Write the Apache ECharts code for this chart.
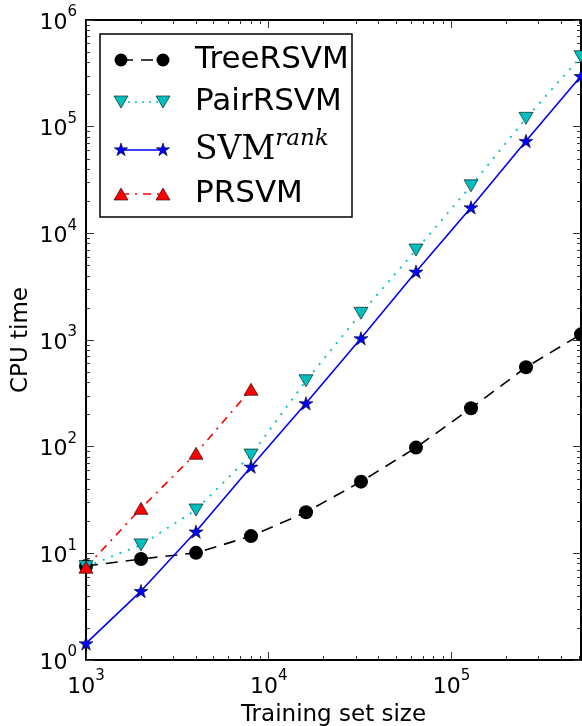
<!DOCTYPE html>
<html>
<head>
<meta charset="utf-8">
<script src="https://cdn.jsdelivr.net/npm/echarts@6.0.0/dist/echarts.min.js"></script>
<style>
  html, body { margin: 0; padding: 0; background: #fff; }
  #chart { width: 582px; height: 726px; }
</style>
</head>
<body>
<div id="chart"></div>
<script>
// data
var sizes = [1000, 2000, 4000, 8000, 16000, 32000, 64000, 128000, 256000, 512000];
var treeRSVM = [7.6, 8.85, 10.1, 14.5, 24.3, 47, 98, 229, 555, 1130];
var pairRSVM = [7.5, 12.0, 25.5, 83.5, 415, 1780, 6980, 27900, 119700, 453000];
var svmRank = [1.43, 4.43, 16.0, 64.9, 255, 1037, 4370, 17500, 73400, 298000];
var prsvm = [7.4, 26.4, 86.6, 345];

// tick positions
var xMajor = [1000, 10000, 100000];
var xMinor = [2000, 3000, 4000, 5000, 6000, 7000, 8000, 9000,
    20000, 30000, 40000, 50000, 60000, 70000, 80000, 90000,
    200000, 300000, 400000, 500000];
var yMajor = [1, 10, 100, 1000, 10000, 100000, 1000000];
var yMinor = [];
for (var k = 0; k < 6; k++) {
    for (var m = 2; m < 10; m++) yMinor.push(m * Math.pow(10, k));
}

var FONT = 'DejaVu Sans';
var STAR = 'path://M0,-10 L2.245,-3.09 L9.51,-3.09 L3.63,1.18 L5.88,8.09 L0,3.82 L-5.88,8.09 L-3.63,1.18 L-9.51,-3.09 L-2.245,-3.09 Z';

function pairs(xs, ys) {
    var out = [];
    for (var i = 0; i < ys.length; i++) out.push([xs[i], ys[i]]);
    return out;
}

function powLabel(v) {
    return '{b|10}{s|' + Math.round(Math.log10(v)) + '}';
}
var labelRich = {
    b: { fontSize: 22, fontFamily: FONT, color: '#000', lineHeight: 36 },
    s: { fontSize: 15, fontFamily: FONT, color: '#000', lineHeight: 15, verticalAlign: 'top' }
};

function xAxisDef(pos, ticks, len, showLine, showLabel) {
    return {
        type: 'log', logBase: 10, min: 1000, max: 512000, position: pos,
        splitLine: { show: false },
        axisLine: { show: showLine, lineStyle: { color: '#000', width: 2 } },
        axisTick: { show: true, inside: true, length: len, customValues: ticks,
            lineStyle: { color: '#333', width: 1 } },
        axisLabel: { show: showLabel, customValues: xMajor, formatter: powLabel, rich: labelRich, margin: 9 },
        minorTick: { show: false }
    };
}
function yAxisDef(pos, ticks, len, showLine, showLabel) {
    return {
        type: 'log', logBase: 10, min: 1, max: 1000000, position: pos,
        splitLine: { show: false },
        axisLine: { show: showLine, lineStyle: { color: '#000', width: 2 } },
        axisTick: { show: true, inside: true, length: len, customValues: ticks,
            lineStyle: { color: '#333', width: 1 } },
        axisLabel: { show: showLabel, customValues: yMajor, formatter: powLabel, rich: labelRich,
            margin: 9, padding: [6, 0, 0, 0] },
        minorTick: { show: false }
    };
}

var xMain = xAxisDef('bottom', xMajor, 8, true, true);
xMain.name = 'Training set size';
xMain.nameLocation = 'middle';
xMain.nameGap = 44;
xMain.nameMoveOverlap = false;
xMain.nameTextStyle = { fontSize: 23, fontFamily: FONT, color: '#000' };
var yMain = yAxisDef('left', yMajor, 8, true, true);
yMain.name = 'CPU time';
yMain.nameLocation = 'middle';
yMain.nameGap = 53;
yMain.nameMoveOverlap = false;
yMain.nameTextStyle = { fontSize: 23, fontFamily: FONT, color: '#000' };

// legend drawn like the matplotlib one
function starPts(cx, cy, r) {
    var pts = [];
    for (var i = 0; i < 10; i++) {
        var a = -Math.PI / 2 + i * Math.PI / 5;
        var rr = i % 2 === 0 ? r : r * 0.382;
        pts.push([cx + rr * Math.cos(a), cy + rr * Math.sin(a)]);
    }
    return pts;
}
function triPts(cx, cy, w, h, down) {
    if (down) return [[cx - w / 2, cy - h / 2], [cx + w / 2, cy - h / 2], [cx, cy + h / 2]];
    return [[cx, cy - h / 2], [cx + w / 2, cy + h / 2], [cx - w / 2, cy + h / 2]];
}
var lx1 = 121, lx2 = 163, tx = 195;
var rows = [60, 102, 150, 194];
var LFONT = '31px "DejaVu Sans"';
var legendGraphic = [
    { type: 'rect', shape: { x: 100, y: 34, width: 252, height: 183 },
      style: { fill: '#fff', stroke: '#000', lineWidth: 1.5 }, z: 100 },
    // TreeRSVM
    { type: 'line', shape: { x1: lx1, y1: rows[0], x2: lx2, y2: rows[0] },
      style: { stroke: '#000', lineWidth: 1.5, lineDash: [12, 8] }, z: 101 },
    { type: 'circle', shape: { cx: lx1, cy: rows[0], r: 6.5 }, style: { fill: '#000' }, z: 102 },
    { type: 'circle', shape: { cx: lx2, cy: rows[0], r: 6.5 }, style: { fill: '#000' }, z: 102 },
    { type: 'text', x: tx, y: rows[0], style: { text: 'TreeRSVM', font: LFONT, fill: '#000', verticalAlign: 'middle' }, z: 102 },
    // PairRSVM
    { type: 'line', shape: { x1: lx1, y1: rows[1], x2: lx2, y2: rows[1] },
      style: { stroke: '#00bfbf', lineWidth: 1.5, lineDash: [2, 5] }, z: 101 },
    { type: 'polygon', shape: { points: triPts(lx1, rows[1], 14, 12, true) }, style: { fill: '#00bfbf', stroke: '#000', lineWidth: 0.6 }, z: 102 },
    { type: 'polygon', shape: { points: triPts(lx2, rows[1], 14, 12, true) }, style: { fill: '#00bfbf', stroke: '#000', lineWidth: 0.6 }, z: 102 },
    { type: 'text', x: tx, y: rows[1], style: { text: 'PairRSVM', font: LFONT, fill: '#000', verticalAlign: 'middle' }, z: 102 },
    // SVM rank
    { type: 'line', shape: { x1: lx1, y1: rows[2], x2: lx2, y2: rows[2] },
      style: { stroke: '#0000ff', lineWidth: 1.5 }, z: 101 },
    { type: 'polygon', shape: { points: starPts(lx1, rows[2], 7) }, style: { fill: '#0000ff', stroke: '#000', lineWidth: 0.6 }, z: 102 },
    { type: 'polygon', shape: { points: starPts(lx2, rows[2], 7) }, style: { fill: '#0000ff', stroke: '#000', lineWidth: 0.6 }, z: 102 },
    { type: 'text', x: tx, y: rows[2], style: {
        text: '{a|SVM}{r|rank}', verticalAlign: 'middle',
        rich: {
            a: { fontSize: 33, fontFamily: 'DejaVu Serif', color: '#000', lineHeight: 45 },
            r: { fontSize: 23, fontFamily: 'DejaVu Serif', fontStyle: 'italic', color: '#000', lineHeight: 24, verticalAlign: 'top' }
        } }, z: 102 },
    // PRSVM
    { type: 'line', shape: { x1: lx1, y1: rows[3], x2: lx2, y2: rows[3] },
      style: { stroke: '#ff0000', lineWidth: 1.5, lineDash: [8, 6, 2, 6] }, z: 101 },
    { type: 'polygon', shape: { points: triPts(lx1, rows[3], 14, 12, false) }, style: { fill: '#ff0000', stroke: '#000', lineWidth: 0.6 }, z: 102 },
    { type: 'polygon', shape: { points: triPts(lx2, rows[3], 14, 12, false) }, style: { fill: '#ff0000', stroke: '#000', lineWidth: 0.6 }, z: 102 },
    { type: 'text', x: tx, y: rows[3], style: { text: 'PRSVM', font: LFONT, fill: '#000', verticalAlign: 'middle' }, z: 102 }
];

var myChart = echarts.init(document.getElementById('chart'), null, { renderer: 'canvas' });
var option = {
    animation: false,
    backgroundColor: '#fff',
    grid: { left: 86, right: 1, top: 20, bottom: 66, containLabel: false, outerBoundsMode: 'none' },
    xAxis: [
        xMain,
        xAxisDef('bottom', xMinor, 4, false, false),
        xAxisDef('top', xMajor, 8, true, false),
        xAxisDef('top', xMinor, 4, false, false)
    ],
    yAxis: [
        yMain,
        yAxisDef('left', yMinor, 4, false, false),
        yAxisDef('right', yMajor, 8, true, false),
        yAxisDef('right', yMinor, 4, false, false)
    ],
    graphic: legendGraphic,
    series: [
        {
            name: 'TreeRSVM', type: 'line', data: pairs(sizes, treeRSVM),
            symbol: 'circle', symbolSize: 14,
            itemStyle: { color: '#000' },
            lineStyle: { color: '#000', width: 1.6, type: [12, 8] }
        },
        {
            name: 'PairRSVM', type: 'line', data: pairs(sizes, pairRSVM),
            symbol: 'triangle', symbolSize: [14, 12], symbolRotate: 180,
            itemStyle: { color: '#00bfbf', borderColor: '#000', borderWidth: 0.6 },
            lineStyle: { color: '#00bfbf', width: 1.8, type: [2, 7] }
        },
        {
            name: 'SVMrank', type: 'line', data: pairs(sizes, svmRank),
            symbol: STAR, symbolSize: 14, symbolKeepAspect: true,
            itemStyle: { color: '#0000ff', borderColor: '#000', borderWidth: 0.6 },
            lineStyle: { color: '#0000ff', width: 1.6 }
        },
        {
            name: 'PRSVM', type: 'line', data: pairs(sizes, prsvm),
            symbol: 'triangle', symbolSize: [14, 12],
            itemStyle: { color: '#ff0000', borderColor: '#000', borderWidth: 0.6 },
            lineStyle: { color: '#ff0000', width: 1.6, type: [8, 6, 2, 6] }
        }
    ]
};
if (option && typeof option === 'object') {
    myChart.setOption(option, true);
}
</script>
</body>
</html>
